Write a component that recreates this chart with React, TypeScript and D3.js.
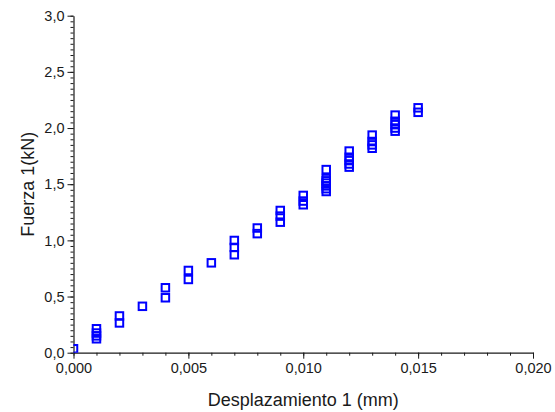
import * as d3 from "d3";
import { useEffect, useRef } from "react";

// displacement steps (mm) and the force readings (kN) logged at each step
const xSteps = [0, 0.001, 0.002, 0.003, 0.004, 0.005, 0.006, 0.007, 0.008, 0.009, 0.01, 0.011, 0.012, 0.013, 0.014, 0.015];
const forces = [
  [0.035],
  [0.124, 0.15, 0.175, 0.213],
  [0.265, 0.327],
  [0.413],
  [0.489, 0.578],
  [0.652, 0.732],
  [0.8],
  [0.872, 0.937, 0.999],
  [1.06, 1.11],
  [1.162, 1.216, 1.266],
  [1.317, 1.35, 1.4],
  [1.435, 1.46, 1.485, 1.51, 1.53, 1.55, 1.63],
  [1.652, 1.68, 1.71, 1.74, 1.795],
  [1.82, 1.85, 1.88, 1.937],
  [1.972, 2.0, 2.03, 2.06, 2.115],
  [2.14, 2.18],
];

const xMajor = [0, 0.005, 0.01, 0.015, 0.02];
const yMajor = [0, 0.5, 1.0, 1.5, 2.0, 2.5, 3.0];
const xTitle = "Desplazamiento 1 (mm)";
const yTitle = "Fuerza 1(kN)";

const App = () => {
  const svgRef = useRef(null);
  const width = 555;
  const height = 412;

  useEffect(() => {
    const svg = d3.select(svgRef.current);
    svg.selectAll("*").remove();

    const margin = { top: 15.7, right: 22, bottom: 59.3, left: 73.5 };
    const x = d3.scaleLinear().domain([0, 0.02]).range([margin.left, width - margin.right]);
    const y = d3.scaleLinear().domain([0, 3]).range([height - margin.bottom, margin.top]);

    const comma = (f: string) => (v: number) => d3.format(f)(v).replace(".", ",");
    const font = "'Liberation Sans', Arial, sans-serif";
    const axisColor = "#1a1a1a";

    // minor ticks
    const xMinor = d3.range(0, 0.0201, 0.001);
    const yMinor = d3.range(0, 3.001, 0.05);

    svg
      .append("g")
      .attr("transform", `translate(0,${y(0)})`)
      .call(d3.axisBottom(x).tickValues(xMinor).tickSize(3).tickFormat(() => ""))
      .call(g => g.select(".domain").remove());
    svg
      .append("g")
      .attr("transform", `translate(0,${y(0)})`)
      .call(d3.axisBottom(x).tickValues(xMajor).tickSize(6).tickSizeOuter(0).tickPadding(4).tickFormat(comma(".3f") as any));

    svg
      .append("g")
      .attr("transform", `translate(${x(0)},0)`)
      .call(d3.axisLeft(y).tickValues(yMinor).tickSize(3).tickFormat(() => ""))
      .call(g => g.select(".domain").remove());
    svg
      .append("g")
      .attr("transform", `translate(${x(0)},0)`)
      .call(d3.axisLeft(y).tickValues(yMajor).tickSize(6).tickSizeOuter(0).tickPadding(3).tickFormat(comma(".1f") as any));

    svg.selectAll(".tick line").attr("stroke", axisColor);
    svg.selectAll(".domain").attr("stroke", axisColor).attr("stroke-width", 1.2);
    svg
      .selectAll(".tick text")
      .attr("font-family", font)
      .attr("font-size", 14.5)
      .attr("fill", "#1a1a1a");

    // clip region for the markers
    svg
      .append("clipPath")
      .attr("id", "plot-clip")
      .append("rect")
      .attr("x", x(0))
      .attr("y", y(3))
      .attr("width", x(0.02) - x(0))
      .attr("height", y(0) - y(3));

    const pts = xSteps.flatMap((xv, i) => forces[i].map(f => ({ x: xv, y: f })));
    const s = 7.5;
    svg
      .append("g")
      .attr("clip-path", "url(#plot-clip)")
      .selectAll("rect")
      .data(pts)
      .join("rect")
      .attr("x", d => x(d.x) - s / 2)
      .attr("y", d => y(d.y) - s / 2)
      .attr("width", s)
      .attr("height", s)
      .attr("fill", "none")
      .attr("stroke", "#0000ff")
      .attr("stroke-width", 2);

    svg
      .append("text")
      .attr("x", (x(0) + x(0.02)) / 2)
      .attr("y", 406)
      .attr("text-anchor", "middle")
      .attr("font-family", font)
      .attr("font-size", 18)
      .attr("fill", "#1a1a1a")
      .text(xTitle);

    svg
      .append("text")
      .attr("transform", `translate(34,${(y(0) + y(3)) / 2}) rotate(-90)`)
      .attr("text-anchor", "middle")
      .attr("font-family", font)
      .attr("font-size", 18)
      .attr("fill", "#1a1a1a")
      .text(yTitle);
  }, []);

  return (
    <svg
      ref={svgRef}
      width={width}
      height={height}
      style={{ position: "absolute", left: 0, top: 0, background: "#fff" }}
    />
  );
};

export default App;
